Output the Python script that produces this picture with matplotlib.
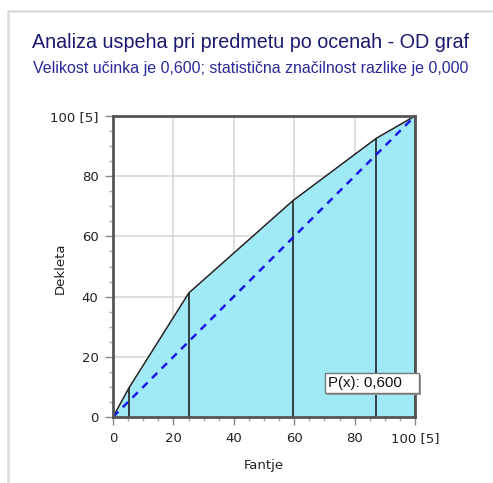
import matplotlib
matplotlib.use("Agg")
import matplotlib.pyplot as plt
from matplotlib.patches import Rectangle
from matplotlib.ticker import MultipleLocator, FixedLocator

# Data
boys_pct = [0, 5.3, 25.1, 59.6, 87.2, 100]      # Fantje (x)
girls_pct = [0, 9.7, 41.2, 71.9, 92.6, 100]     # Dekleta (y)
diag = [0, 100]
tick_vals = [0, 20, 40, 60, 80, 100]
tick_labels = ["0", "20", "40", "60", "80", "100 [5]"]
title = "Analiza uspeha pri predmetu po ocenah - OD graf"
subtitle = "Velikost učinka je 0,600; statistična značilnost razlike je 0,000"
annot = "P(x): 0,600"

W, H = 493, 483
fig = plt.figure(figsize=(W / 100, H / 100), dpi=100)
fig.patch.set_facecolor("white")

# outer light border
fig.patches.append(Rectangle((8 / W, -0.1), 1.2, 1 - 11 / H + 0.1, transform=fig.transFigure,
                             fill=False, edgecolor="#dcdcdc", linewidth=1.8, zorder=0))

ax = fig.add_axes([113 / W, 1 - 417 / H, 302 / W, 301 / H])
ax.set_xlim(0, 100)
ax.set_ylim(0, 100)

ax.grid(True, color="#d4d4d4", linewidth=1.1, zorder=0)
ax.set_axisbelow(True)

ax.fill_between(boys_pct, girls_pct, 0, color="#a0eaf7", zorder=2, linewidth=0)
ax.plot(boys_pct, girls_pct, color="#222222", linewidth=1.1, zorder=3)
ax.vlines(boys_pct[1:], 0, girls_pct[1:], color="#222222", linewidth=1.2, zorder=3)
ax.plot(diag, diag, color="#1a1aee", linewidth=1.8, linestyle=(0, (3, 2.5)), zorder=4)

ax.xaxis.set_major_locator(FixedLocator(tick_vals))
ax.yaxis.set_major_locator(FixedLocator(tick_vals))
ax.set_xticklabels(tick_labels)
ax.set_yticklabels(tick_labels)
ax.xaxis.set_minor_locator(MultipleLocator(5))
ax.yaxis.set_minor_locator(MultipleLocator(5))
ax.tick_params(which="major", direction="out", length=5.5, width=1, color="#888888",
               labelsize=9.5, labelcolor="#222222", pad=5)
ax.tick_params(which="minor", direction="out", length=3, width=1, color="#aaaaaa")

for s in ax.spines.values():
    s.set_color("#555555")
    s.set_linewidth(2)
    s.set_zorder(5)

ax.set_xlabel("Fantje", fontsize=9.5, color="#222222")
ax.xaxis.set_label_coords(0.5, -(466 - 417) / 301)
ax.xaxis.label.set_va("center")
ax.set_ylabel("Dekleta", fontsize=9.5, color="#222222")
ax.yaxis.set_label_coords(-(113 - 67) / 302, 0.495)

# annotation box with small shadow
px = 100 / 302
py = 100 / 301
bx, by, bw, bh = (325 - 113) * px, (417 - 393) * py, 94 * px, 20 * py
ax.add_patch(Rectangle((bx + 2 * px, by - 2 * py), bw, bh, facecolor="#9a9a9a",
                       edgecolor="none", clip_on=False, zorder=6))
ax.add_patch(Rectangle((bx, by), bw, bh, facecolor="white", edgecolor="#777777",
                       linewidth=1, clip_on=False, zorder=7))
ax.text(bx + 3 * px, by + bh / 2, annot, fontsize=10.8, family="Liberation Sans",
        color="#111111", ha="left", va="center", zorder=8, clip_on=False)

fig.text(251 / W, 1 - 43 / H, title, ha="center", va="center", fontsize=14.2,
         family="Liberation Sans", color="#1a1a70")
fig.text(251 / W, 1 - 69 / H, subtitle, ha="center", va="center", fontsize=11.5,
         family="Liberation Sans", color="#2a2a9a")

fig.savefig("out.png", dpi=100, facecolor="white")
